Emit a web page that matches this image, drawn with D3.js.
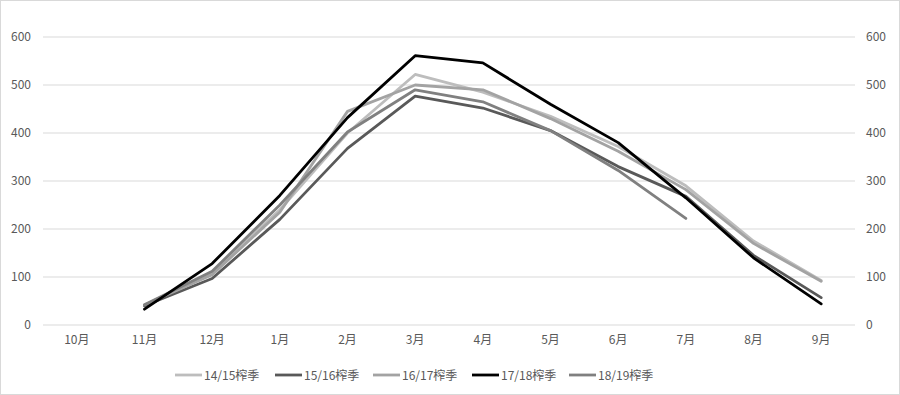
<!DOCTYPE html>
<html>
<head>
<meta charset="utf-8">
<script src="https://cdn.jsdelivr.net/npm/d3@7"></script>
<style>
  body { margin: 0; background: #fff; }
  text { font-family: "Noto Sans CJK SC", "DejaVu Sans", sans-serif; }
</style>
</head>
<body>
<div id="chart"></div>
<script>
// data
const months = ['10月', '11月', '12月', '1月', '2月', '3月', '4月', '5月', '6月', '7月', '8月', '9月'];
const seriesNames = ['14/15榨季', '15/16榨季', '16/17榨季', '17/18榨季', '18/19榨季'];
const s1415 = [null, 40, 108, 240, 400, 522, 485, 435, 372, 290, 175, 93];
const s1516 = [null, 40, 97, 220, 368, 477, 452, 405, 330, 268, 145, 57];
const s1617 = [null, 42, 105, 235, 445, 500, 490, 430, 362, 282, 170, 91];
const s1718 = [null, 33, 128, 270, 432, 561, 546, 460, 380, 265, 140, 44];
const s1819 = [null, 42, 112, 250, 402, 490, 465, 405, 322, 222, null, null];
const yTicks = [0, 100, 200, 300, 400, 500, 600];

const allSeries = [s1415, s1516, s1617, s1718, s1819];
const colors = ['#bdbdbd', '#595959', '#a3a3a3', '#000000', '#808080'];

const width = 900;
const height = 395;
const plotLeft = 43, plotRight = 855, plotTop = 37, plotBottom = 325;

const svg = d3.select('#chart').append('svg')
    .attr('width', width).attr('height', height);

// border
svg.append('rect')
    .attr('x', 0.5).attr('y', 0.5)
    .attr('width', width - 1).attr('height', height - 1)
    .attr('fill', 'none').attr('stroke', '#d9d9d9');

const x = d3.scaleBand().domain(months).range([plotLeft, plotRight]).padding(0);
const y = d3.scaleLinear().domain([0, 600]).range([plotBottom, plotTop]);

// grid lines
svg.append('g')
    .selectAll('line')
    .data(yTicks)
    .join('line')
    .attr('x1', plotLeft).attr('x2', plotRight)
    .attr('y1', d => y(d)).attr('y2', d => y(d))
    .attr('stroke', '#d9d9d9').attr('stroke-width', 1);

// left axis
const yLeft = d3.axisLeft(y).tickValues(yTicks).tickSize(0).tickPadding(0);
svg.append('g')
    .attr('transform', `translate(31,0)`)
    .call(yLeft)
    .call(g => g.select('.domain').remove())
    .selectAll('text')
    .attr('fill', '#595959').style('font-size', '12px');

// right axis
const yRight = d3.axisRight(y).tickValues(yTicks).tickSize(0).tickPadding(0);
svg.append('g')
    .attr('transform', `translate(866,0)`)
    .call(yRight)
    .call(g => g.select('.domain').remove())
    .selectAll('text')
    .attr('fill', '#595959').style('font-size', '12px');

// x axis
const xAxis = d3.axisBottom(x).tickSize(0).tickPadding(10);
svg.append('g')
    .attr('transform', `translate(0,${plotBottom})`)
    .call(xAxis)
    .call(g => g.select('.domain').remove())
    .selectAll('text')
    .attr('fill', '#595959').style('font-size', '12px');

// lines
const line = d3.line()
    .defined(d => d != null)
    .x((d, i) => x(months[i]) + x.bandwidth() / 2)
    .y(d => y(d));

// draw order: black on top
const order = [0, 1, 2, 4, 3];
order.forEach(k => {
    svg.append('path')
        .datum(allSeries[k])
        .attr('d', line)
        .attr('fill', 'none')
        .attr('stroke', colors[k])
        .attr('stroke-width', 2.8)
        .attr('stroke-linejoin', 'round')
        .attr('stroke-linecap', 'round');
});

// legend
const legendX = [175, 275, 373, 472, 569];
const legend = svg.append('g');
seriesNames.forEach((name, i) => {
    legend.append('line')
        .attr('x1', legendX[i]).attr('x2', legendX[i] + 27)
        .attr('y1', 375).attr('y2', 375)
        .attr('stroke', colors[i]).attr('stroke-width', 2.8);
    legend.append('text')
        .attr('x', legendX[i] + 29).attr('y', 379.5)
        .attr('fill', '#595959')
        .style('font-size', '12px')
        .text(name);
});
</script>
</body>
</html>
